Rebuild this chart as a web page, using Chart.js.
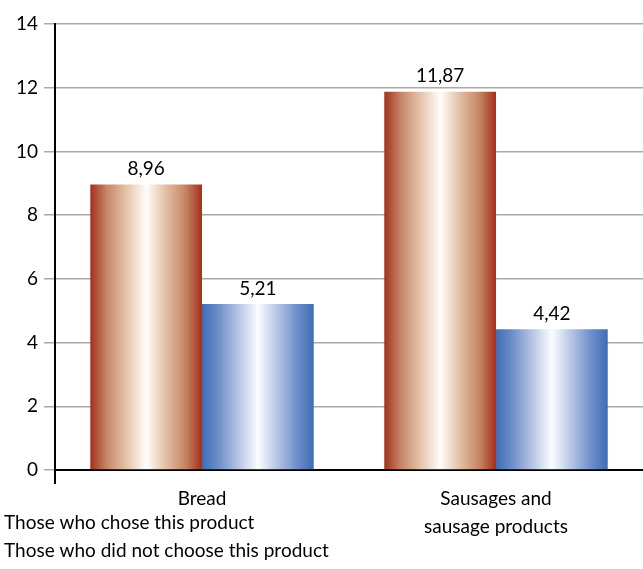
<!DOCTYPE html>
<html>
<head>
<meta charset="utf-8">
<script src="https://cdn.jsdelivr.net/npm/chart.js@4"></script>
<style>
    html, body { margin: 0; padding: 0; background: #fff; }
    #wrap { width: 643px; height: 569px; }
</style>
</head>
<body>
<div id="wrap"><canvas id="chart" width="643" height="569"></canvas></div>
<script>
const categories = ['Bread', ['Sausages and', 'sausage products']];
const seriesNames = ['Those who chose this product', 'Those who did not choose this product'];
const chose = [8.96, 11.87];
const notChose = [5.21, 4.42];
const yTicks = [0, 2, 4, 6, 8, 10, 12, 14];

const FONT = 'Lato, "DejaVu Sans", sans-serif';
const FONT_SIZE = 19;

// horizontal "cylinder" gradients, one per series
const redStops = [[0, '#a3301c'], [0.15, '#c6876a'], [0.32, '#e4c2a8'], [0.5, '#fffdfa'], [0.68, '#e2bea3'], [0.85, '#c48566'], [1, '#a3301c']];
const blueStops = [[0, '#3d6db6'], [0.15, '#6f8fc8'], [0.32, '#b4c3e3'], [0.5, '#fbfcff'], [0.68, '#b4c3e3'], [0.85, '#6f8fc8'], [1, '#3d6db6']];

function barGradient(stops, side) {
    return function (ctx) {
        const chart = ctx.chart;
        const x = chart.scales.x;
        if (!chart.chartArea || !x) return stops[0][1];
        const catW = x.width / categories.length;
        const barW = catW * 0.76 / 2;
        const center = x.getPixelForValue(ctx.dataIndex);
        const left = side === 0 ? center - barW : center;
        const g = chart.ctx.createLinearGradient(left, 0, left + barW, 0);
        stops.forEach(s => g.addColorStop(s[0], s[1]));
        return g;
    };
}

// value labels above bars, with comma decimals
const valueLabels = {
    id: 'valueLabels',
    afterDatasetsDraw(chart) {
        const c = chart.ctx;
        c.save();
        c.font = FONT_SIZE + 'px ' + FONT;
        c.fillStyle = '#000';
        c.textAlign = 'center';
        c.textBaseline = 'bottom';
        chart.data.datasets.forEach((ds, i) => {
            chart.getDatasetMeta(i).data.forEach((bar, j) => {
                c.fillText(ds.data[j].toFixed(2).replace('.', ','), bar.x, bar.y - 6);
            });
        });
        c.restore();
    }
};

// plain text legend at bottom-left, no colour boxes
const textLegend = {
    id: 'textLegend',
    afterDraw(chart) {
        const c = chart.ctx;
        c.save();
        c.font = FONT_SIZE + 'px ' + FONT;
        c.fillStyle = '#000';
        c.textAlign = 'left';
        c.textBaseline = 'middle';
        chart.data.datasets.forEach((ds, i) => {
            c.fillText(ds.label, 4, 523 + i * 28);
        });
        c.restore();
    }
};

new Chart(document.getElementById('chart'), {
    type: 'bar',
    data: {
        labels: categories,
        datasets: [
            { label: seriesNames[0], data: chose, backgroundColor: barGradient(redStops, 0) },
            { label: seriesNames[1], data: notChose, backgroundColor: barGradient(blueStops, 1) }
        ]
    },
    options: {
        responsive: false,
        animation: false,
        layout: { padding: { top: 24, right: 0, left: 0, bottom: 0 } },
        plugins: {
            legend: { display: false },
            tooltip: { enabled: false }
        },
        datasets: {
            bar: { categoryPercentage: 0.76, barPercentage: 1.0, borderWidth: 0 }
        },
        scales: {
            x: {
                afterFit(scale) { scale.height = 99; },
                grid: {
                    offset: true,
                    drawOnChartArea: false,
                    tickLength: 14,
                    lineWidth: 2,
                    color: ctx => ctx.index === 0 ? '#000' : 'rgba(0,0,0,0)'
                },
                border: { color: '#000', width: 2 },
                ticks: {
                    color: '#000',
                    padding: 1,
                    maxRotation: 0,
                    font: { family: FONT, size: FONT_SIZE, lineHeight: 1.47 }
                }
            },
            y: {
                min: 0,
                max: 14,
                afterFit(scale) { scale.width = 55; },
                afterBuildTicks(scale) { scale.ticks = yTicks.map(v => ({ value: v })); },
                grid: { color: '#aaa', lineWidth: 1.5, tickLength: 11 },
                border: { color: '#000', width: 2 },
                ticks: {
                    color: '#000',
                    padding: 6,
                    font: { family: FONT, size: FONT_SIZE }
                }
            }
        }
    },
    plugins: [valueLabels, textLegend]
});
</script>
</body>
</html>
